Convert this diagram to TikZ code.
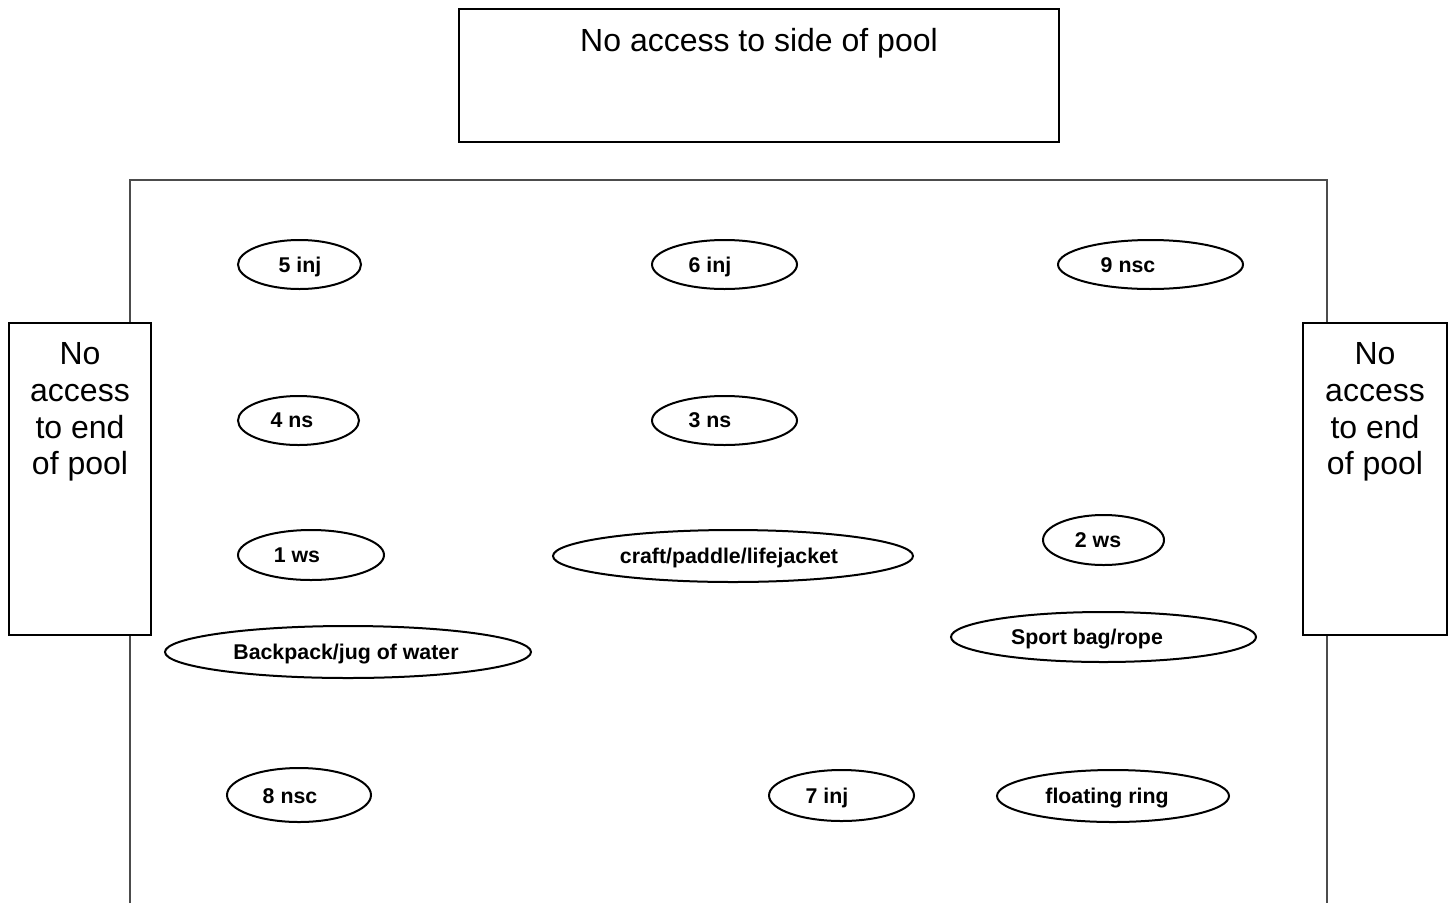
\documentclass[tikz,border=0pt]{standalone}
\usepackage{fontspec}
\setmainfont{Liberation Sans}
\usepackage{tikz}
\usetikzlibrary{calc, shapes.geometric, positioning}

% one pixel of the sketch
\newcommand{\pxu}{0.375pt}

\begin{document}
\begin{tikzpicture}[x=0.375pt, y=-0.375pt,
    wall/.style={line width=0.75pt, black!70},
    sidebox/.style={draw, line width=0.75pt, fill=white, rectangle, inner sep=0pt},
    bigtext/.style={font=\fontsize{12}{13.8}\selectfont, align=center, inner sep=0pt, anchor=base},
    obj/.style={draw, line width=0.75pt, ellipse, inner sep=0pt},
    objtext/.style={font=\fontsize{8}{9.6}\selectfont\bfseries, inner sep=0pt, anchor=base}]

    \useasboundingbox (0,0) rectangle (1454,903);

    % =================================================================
    % 1. POOL OUTLINE
    % =================================================================
    \coordinate (PoolBL) at (130,903);
    \coordinate (PoolTL) at (130,180);
    \coordinate (PoolTR) at (1327,180);
    \coordinate (PoolBR) at (1327,903);
    \draw[wall] (PoolBL) -- (PoolTL) -- (PoolTR) -- (PoolBR);

    % =================================================================
    % 2. NO ACCESS BOXES
    % =================================================================
    \node[sidebox, minimum width=600*\pxu, minimum height=133*\pxu] (side) at (759,75.5) {};
    \node[bigtext] (sidetext) at (759,51) {No access to side of pool};

    \node[sidebox, minimum width=142*\pxu, minimum height=312*\pxu] (endL) at (80,479) {};
    \node[bigtext, anchor=north] (endLtext) at (80,342) {No\\access\\to end\\of pool};

    \node[sidebox, minimum width=144*\pxu, minimum height=312*\pxu] (endR) at (1375,479) {};
    \node[bigtext, anchor=north] (endRtext) at (1375,342) {No\\access\\to end\\of pool};

    % =================================================================
    % 3. PEOPLE IN THE POOL
    % =================================================================
    \node[obj, minimum width=123*\pxu, minimum height=49*\pxu] (p5) at (299.5,264.5) {};
    \node[objtext] (p5text) at (300,272) {5 inj};
    \node[obj, minimum width=145*\pxu, minimum height=49*\pxu] (p6) at (724.5,264.5) {};
    \node[objtext] (p6text) at (710,272) {6 inj};
    \node[obj, minimum width=185*\pxu, minimum height=49*\pxu] (p9) at (1150.5,264.5) {};
    \node[objtext] (p9text) at (1128,272) {9 nsc};

    \node[obj, minimum width=121*\pxu, minimum height=49*\pxu] (p4) at (298.5,420.5) {};
    \node[objtext] (p4text) at (292,427) {4 ns};
    \node[obj, minimum width=145*\pxu, minimum height=49*\pxu] (p3) at (724.5,420.5) {};
    \node[objtext] (p3text) at (710,427) {3 ns};

    \node[obj, minimum width=146*\pxu, minimum height=50*\pxu] (p1) at (311,555) {};
    \node[objtext] (p1text) at (297,562) {1 ws};
    \node[obj, minimum width=121*\pxu, minimum height=50*\pxu] (p2) at (1103.5,540) {};
    \node[objtext] (p2text) at (1098,547) {2 ws};

    \node[obj, minimum width=144*\pxu, minimum height=54*\pxu] (p8) at (299,795) {};
    \node[objtext] (p8text) at (290,803) {8 nsc};
    \node[obj, minimum width=145*\pxu, minimum height=51*\pxu] (p7) at (841.5,795.5) {};
    \node[objtext] (p7text) at (827,803) {7 inj};

    % =================================================================
    % 4. RESCUE AIDS
    % =================================================================
    \node[obj, minimum width=360*\pxu, minimum height=52*\pxu] (craft) at (733,556) {};
    \node[objtext] (crafttext) at (729,563) {craft/paddle/lifejacket};
    \node[obj, minimum width=366*\pxu, minimum height=52*\pxu] (backpack) at (348,652) {};
    \node[objtext] (backpacktext) at (346,659) {Backpack/jug of water};
    \node[obj, minimum width=305*\pxu, minimum height=50*\pxu] (sportbag) at (1103.5,637) {};
    \node[objtext] (sportbagtext) at (1087,644) {Sport bag/rope};
    \node[obj, minimum width=232*\pxu, minimum height=52*\pxu] (ring) at (1113,796) {};
    \node[objtext] (ringtext) at (1107,803) {floating ring};

\end{tikzpicture}
\end{document}
